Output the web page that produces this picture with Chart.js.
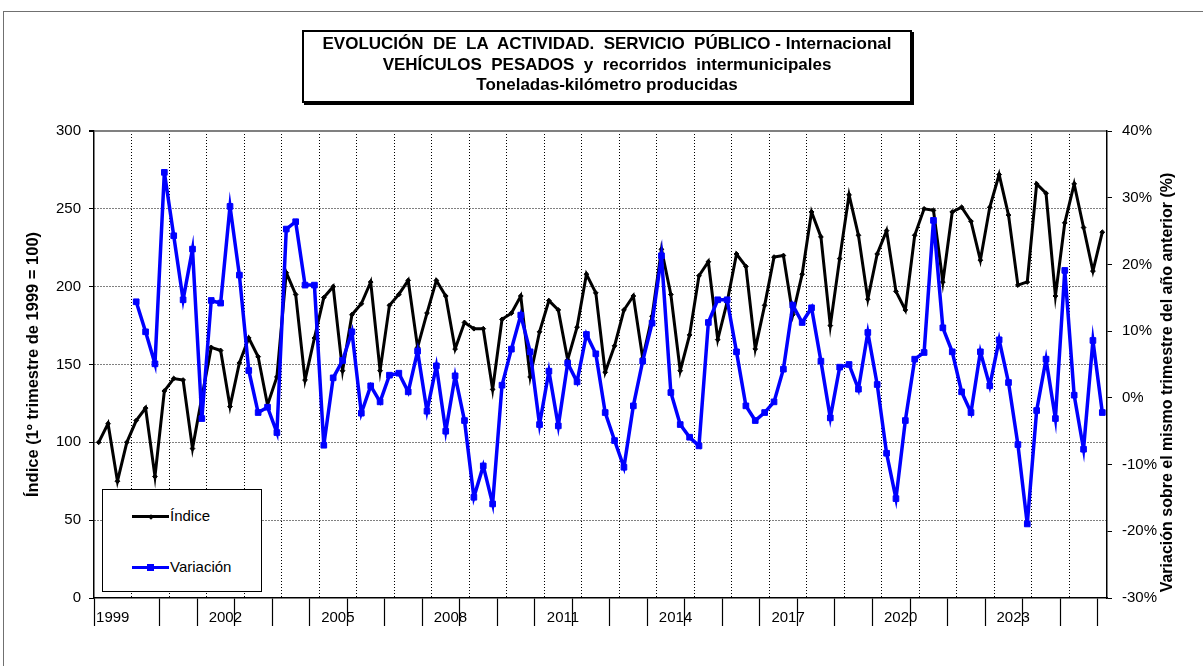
<!DOCTYPE html>
<html lang="es">
<head>
<meta charset="utf-8">
<title>Evolución de la actividad - Vehículos pesados</title>
<script src="https://cdn.jsdelivr.net/npm/chart.js@4.4.1/dist/chart.umd.min.js"></script>
<style>
  html, body { margin: 0; padding: 0; background: #fff; }
  #marco { position: relative; width: 1203px; height: 666px; overflow: hidden;
           font-family: "Liberation Sans", Arial, sans-serif; }
  #borde { position: absolute; left: 3px; top: 11px; width: 1300px; height: 800px;
           border-top: 1px solid #707070; border-left: 1px solid #707070; }
  #grafico { position: absolute; left: 0; top: 0; }
  #titulo { position: absolute; left: 302px; top: 30px; width: 606px; height: 67px;
            border: 2px solid #000; box-shadow: 2px 2px 0 #000; background: #fff;
            text-align: center; font-weight: bold; font-size: 17px; line-height: 20.5px;
            font-family: "Liberation Sans", Arial, sans-serif;
            white-space: pre; padding-top: 2px; box-sizing: content-box; }
  #leyenda { position: absolute; left: 102px; top: 489px; width: 158px; height: 101px;
             border: 1px solid #000; background: #fff; font-size: 15px; }
  .fila { position: absolute; left: 0; height: 18px; }
  .muestra { position: absolute; left: 29px; top: 8px; width: 37px; height: 3px; }
  .marca { position: absolute; top: 50%; left: 50%; }
  .texto { position: absolute; left: 67px; top: 0; line-height: 18px; color: #000; }
</style>
</head>
<body>
<div id="marco">
  <div id="borde"></div>
  <canvas id="grafico" width="1203" height="666"></canvas>
  <div id="titulo">EVOLUCIÓN  DE  LA  ACTIVIDAD.  SERVICIO  PÚBLICO - Internacional
VEHÍCULOS  PESADOS  y  recorridos  intermunicipales
Toneladas-kilómetro producidas</div>
  <div id="leyenda"></div>
</div>
<script>
// trimestres 1999T1 .. 2025T4
const anios = [1999, 2000, 2001, 2002, 2003, 2004, 2005, 2006, 2007, 2008, 2009, 2010, 2011,
               2012, 2013, 2014, 2015, 2016, 2017, 2018, 2019, 2020, 2021, 2022, 2023, 2024, 2025];
const etiquetasAnio = ['1999', '2002', '2005', '2008', '2011', '2014', '2017', '2020', '2023'];

// Índice (1º trimestre de 1999 = 100)
const indice = [
  100, 112, 75, 100,   114, 122, 78, 133,   141, 140, 96, 129,   161, 159, 123, 151,
  167, 155, 124, 142,  209, 195, 140, 167,  193, 200, 146, 182,  189, 203, 146, 188,
  195, 204, 161, 183,  204, 194, 160, 177,  173, 173, 134, 179,  183, 194, 142, 171,
  191, 185, 153, 174,  208, 196, 145, 162,  185, 194, 154, 181,  224, 195, 146, 169,
  207, 216, 166, 190,  221, 213, 160, 188,  219, 220, 182, 208,  248, 232, 175, 218,
  259, 233, 192, 221,  236, 197, 185, 233,  250, 249, 203, 248,  251, 242, 217, 251,
  272, 246, 201, 203,  266, 260, 194, 241,  266, 238, 210, 235
];

// Variación sobre el mismo trimestre del año anterior (%)
const variacion = [
  null, null, null, null,   14.4, 9.9, 5.1, 33.8,    24.3, 14.7, 22.3, -3.1,
  14.6, 14.2, 28.7, 18.4,   4.1, -2.2, -1.4, -5.2,   25.3, 26.4, 16.9, 16.9,
  -7.1, 3.0, 5.6, 9.9,      -2.3, 1.8, -0.6, 3.4,    3.7, 0.9, 7.0, -2.0,
  4.8, -5.0, 3.3, -3.4,     -14.9, -10.2, -15.9, 1.9, 7.3, 12.4, 6.9, -4.0,
  4.0, -4.2, 5.2, 2.4,      9.5, 6.6, -2.2, -6.4,    -10.4, -1.2, 5.5, 11.2,
  21.3, 0.8, -4.0, -5.9,    -7.2, 11.3, 14.7, 14.7,  6.9, -1.2, -3.4, -2.2,
  -0.6, 4.3, 13.9, 11.3,    13.5, 5.5, -3.0, 4.6,    5.0, 1.3, 9.8, 2.0,
  -8.3, -15.1, -3.4, 5.8,   6.8, 26.6, 10.5, 6.9,    0.9, -2.2, 6.9, 1.8,
  8.7, 2.3, -7.0, -18.9,    -1.9, 5.8, -3.1, 19.1,   0.4, -7.7, 8.6, -2.2
];

const tituloEjeIzq = 'Índice (1º trimestre de 1999 = 100)';
const tituloEjeDer = 'Variación sobre el mismo trimestre del año anterior (%)';

const nTrim = anios.length * 4;
// posiciones en el eje x (en trimestres): rejilla anual, etiquetas cada 3 años, marcas bajo el eje
const rejilla = [];
for (let v = 4; v < nTrim; v += 4) rejilla.push(v);
const posEtiquetas = etiquetasAnio.map((e, k) => k * 12 + 2);
const marcas = [0];
for (let v = 7; v < nTrim; v += 4) marcas.push(v);
const posicionesX = Array.from(new Set([...rejilla, ...posEtiquetas, ...marcas])).sort((a, b) => a - b);

const transparente = 'rgba(0,0,0,0)';

Chart.defaults.font.family = '"Liberation Sans", Arial, sans-serif';
Chart.defaults.color = '#000';

const tituloDerecho = {
    id: 'tituloDerecho',
    afterDraw(chart) {
        const { ctx, chartArea, scales } = chart;
        ctx.save();
        ctx.translate(scales.y1.left + 61, (chartArea.top + chartArea.bottom) / 2 + 18);
        ctx.rotate(-Math.PI / 2);
        ctx.font = 'bold 16px "Liberation Sans", Arial, sans-serif';
        ctx.fillStyle = '#000';
        ctx.textAlign = 'center';
        ctx.textBaseline = 'middle';
        ctx.fillText(tituloEjeDer, 0, 0);
        ctx.restore();
    }
};

const ctx = document.getElementById('grafico').getContext('2d');
const chart = new Chart(ctx, {
    type: 'line',
    data: {
        datasets: [{
            label: 'Índice',
            data: indice.map((v, i) => ({ x: i + 0.5, y: v })),
            yAxisID: 'y',
            borderColor: '#000',
            backgroundColor: '#000',
            borderWidth: 3,
            pointStyle: 'rectRot',
            pointRadius: 2.4,
            pointBorderWidth: 1,
            order: 2
        }, {
            label: 'Variación',
            data: variacion.map((v, i) => ({ x: i + 0.5, y: v })),
            yAxisID: 'y1',
            borderColor: '#0000ff',
            backgroundColor: '#0000ff',
            borderWidth: 3.5,
            pointStyle: 'rect',
            pointRadius: 4,
            pointBorderWidth: 1,
            order: 1
        }]
    },
    options: {
        responsive: false,
        animation: false,
        layout: { padding: { left: 20, top: 131, right: 0, bottom: 0 } },
        plugins: { legend: { display: false }, tooltip: { enabled: false } },
        scales: {
            x: {
                type: 'linear',
                position: 'bottom',
                min: 0,
                max: nTrim,
                afterBuildTicks: s => { s.ticks = posicionesX.map(v => ({ value: v })); },
                afterFit: s => { s.height = 68; },
                ticks: {
                    autoSkip: false,
                    maxRotation: 0,
                    padding: -17,
                    font: { size: 15 },
                    callback: v => {
                        const k = posEtiquetas.indexOf(v);
                        return k >= 0 ? etiquetasAnio[k] : '';
                    }
                },
                grid: {
                    color: c => (c.tick && rejilla.includes(c.tick.value)) ? '#000' : transparente,
                    lineWidth: 1,
                    tickColor: c => (c.tick && marcas.includes(c.tick.value)) ? '#000' : transparente,
                    tickLength: 28,
                    tickWidth: 1.2
                },
                border: { color: '#000', width: 1.5, dash: [1, 2] }
            },
            y: {
                position: 'left',
                min: 0,
                max: 300,
                afterFit: s => { s.width = 74; },
                ticks: { stepSize: 50, font: { size: 15 }, padding: 8 },
                grid: {
                    color: c => {
                        if (!c.tick) return '#000';
                        if (c.tick.value === 300) return '#808080';
                        return c.tick.value === 0 ? transparente : '#000';
                    },
                    lineWidth: c => (c.tick && c.tick.value === 300) ? 2 : 1,
                    tickColor: '#000',
                    tickLength: 5
                },
                border: {
                    color: '#000',
                    width: 1.5,
                    dash: c => (c.tick && c.tick.value === 300) ? [] : [1, 2]
                },
                title: {
                    display: true,
                    text: tituloEjeIzq,
                    font: { size: 16.5, weight: 'bold' },
                    padding: { top: 4, bottom: 0 }
                }
            },
            y1: {
                position: 'right',
                min: -30,
                max: 40,
                afterFit: s => { s.width = 96; },
                ticks: { stepSize: 10, font: { size: 15 }, padding: 10, callback: v => v + '%' },
                grid: { drawOnChartArea: false, tickColor: '#000', tickLength: 5 },
                border: { color: '#000', width: 1.5 }
            }
        }
    },
    plugins: [tituloDerecho]
});

// leyenda dentro del área del gráfico
const leyenda = document.getElementById('leyenda');
const filasTop = [17, 68];
chart.data.datasets.forEach((ds, i) => {
    const fila = document.createElement('div');
    fila.className = 'fila';
    fila.style.top = filasTop[i] + 'px';
    fila.style.width = '150px';
    const muestra = document.createElement('div');
    muestra.className = 'muestra';
    muestra.style.background = ds.borderColor;
    const marca = document.createElement('div');
    marca.className = 'marca';
    const lado = ds.pointStyle === 'rect' ? 7 : 4;
    marca.style.width = lado + 'px';
    marca.style.height = lado + 'px';
    marca.style.margin = (-lado / 2) + 'px 0 0 ' + (-lado / 2) + 'px';
    marca.style.background = ds.borderColor;
    if (ds.pointStyle === 'rectRot') marca.style.transform = 'rotate(45deg)';
    muestra.appendChild(marca);
    const texto = document.createElement('span');
    texto.className = 'texto';
    texto.textContent = ds.label;
    fila.appendChild(muestra);
    fila.appendChild(texto);
    leyenda.appendChild(fila);
});
</script>
</body>
</html>
